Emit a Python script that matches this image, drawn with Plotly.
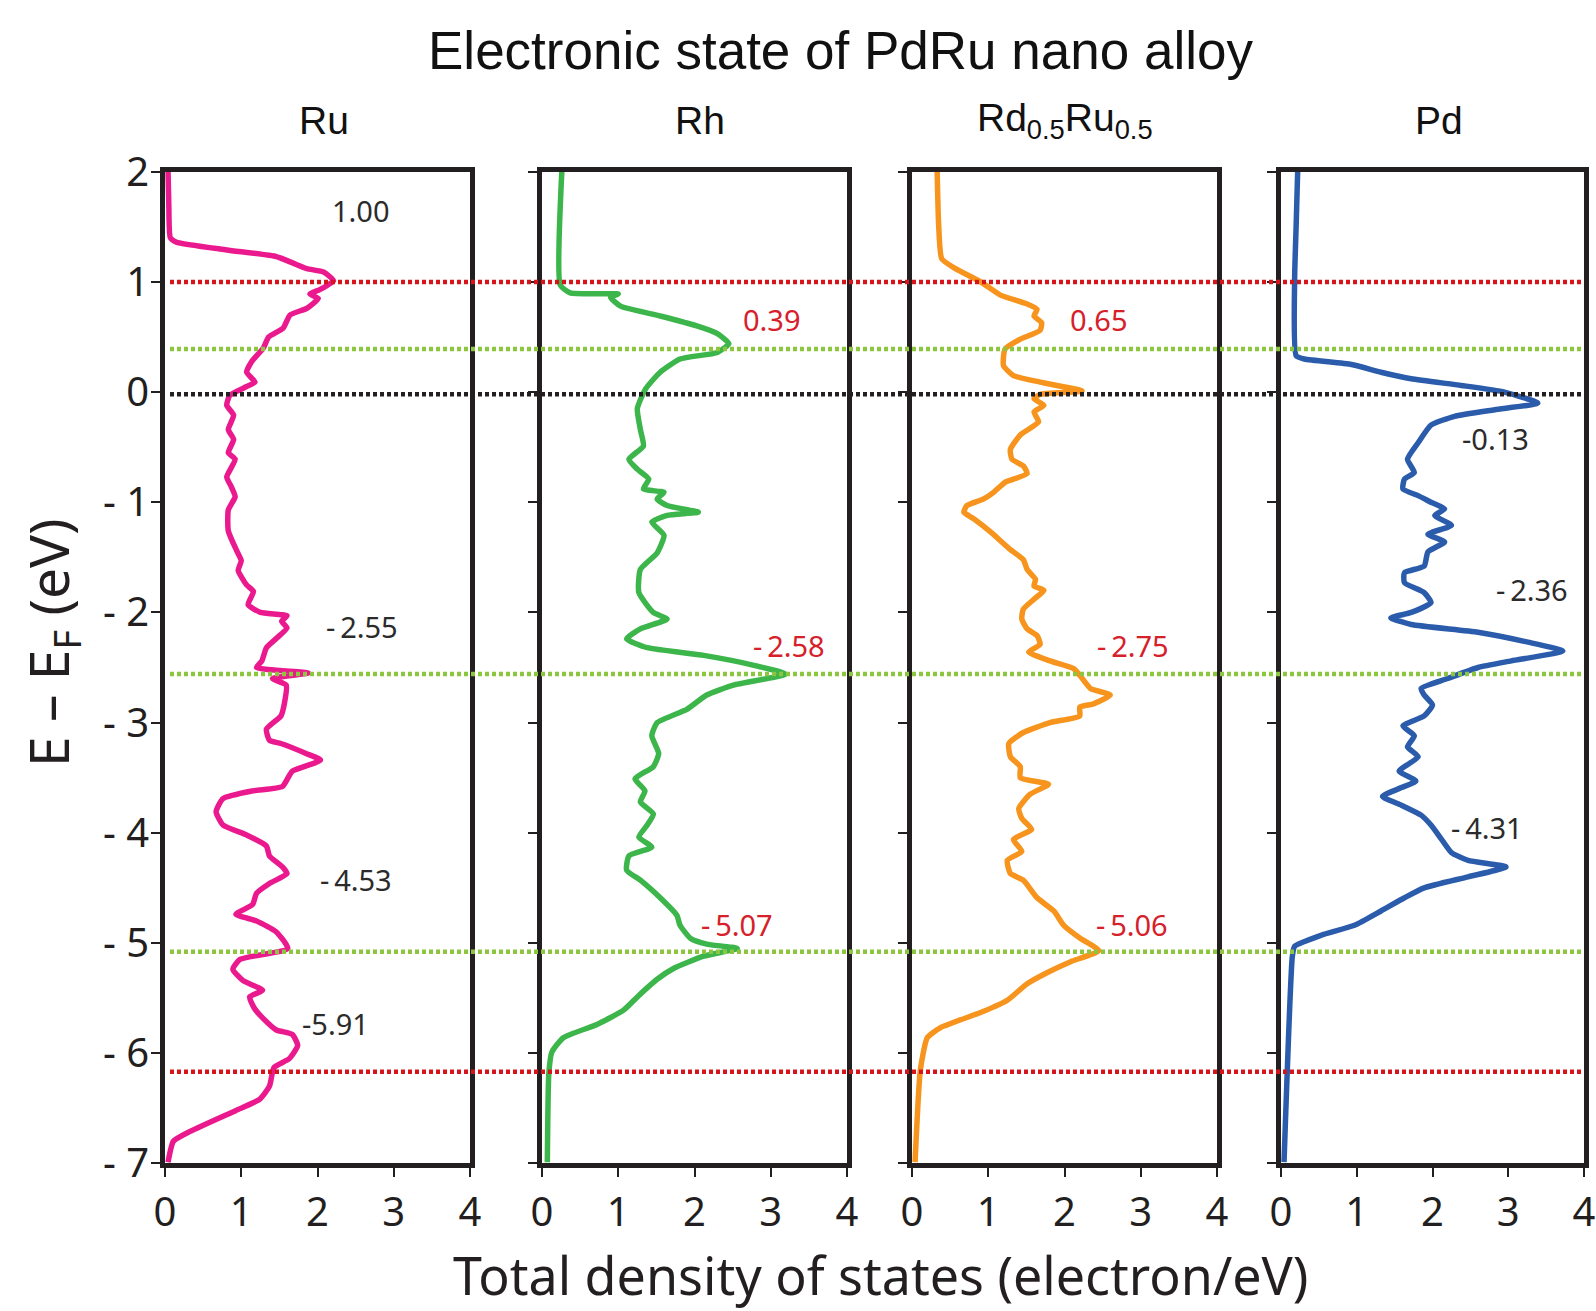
import plotly.graph_objects as go

# ---------------- data (energy E-EF in eV, total DOS in electron/eV) ----------------
panel_names = ["Ru", "Rh", "Rd<sub>0.5</sub>Ru<sub>0.5</sub>", "Pd"]

ru_points = [(2.0, 0.04), (1.7, 0.05), (1.4, 0.07), (1.36, 0.15), (1.29, 0.81), (1.23, 1.46), (1.17, 1.68),
             (1.12, 1.86), (1.09, 2.08), (1.01, 2.21), (0.93, 2.03), (0.89, 1.9), (0.85, 2.01), (0.76, 1.86),
             (0.70, 1.64), (0.58, 1.55), (0.50, 1.36), (0.40, 1.29), (0.28, 1.14), (0.18, 1.07), (0.09, 1.18),
             (0.05, 1.07), (-0.03, 0.85), (-0.12, 0.81), (-0.21, 0.9), (-0.34, 0.83), (-0.43, 0.9),
             (-0.55, 0.83), (-0.61, 0.92), (-0.77, 0.81), (-0.86, 0.87), (-0.95, 0.92), (-1.07, 0.83),
             (-1.26, 0.83), (-1.44, 0.94), (-1.53, 1.0), (-1.62, 0.96), (-1.75, 1.07), (-1.81, 1.16),
             (-1.93, 1.09), (-2.0, 1.25), (-2.03, 1.6), (-2.08, 1.53), (-2.14, 1.6), (-2.23, 1.47),
             (-2.32, 1.33), (-2.44, 1.27), (-2.5, 1.2), (-2.55, 1.88), (-2.6, 1.41), (-2.66, 1.59),
             (-2.81, 1.57), (-2.94, 1.52), (-3.06, 1.33), (-3.16, 1.37), (-3.19, 1.52), (-3.28, 1.85),
             (-3.34, 2.04), (-3.44, 1.67), (-3.48, 1.63), (-3.58, 1.54), (-3.62, 1.15), (-3.69, 0.76),
             (-3.81, 0.67), (-3.93, 0.76), (-4.02, 1.07), (-4.12, 1.33), (-4.21, 1.37), (-4.31, 1.54),
             (-4.37, 1.6), (-4.46, 1.37), (-4.55, 1.2), (-4.65, 1.15), (-4.74, 0.93), (-4.8, 1.2),
             (-4.9, 1.46), (-5.05, 1.61), (-5.15, 0.98), (-5.24, 0.89), (-5.34, 1.02), (-5.43, 1.28),
             (-5.49, 1.11), (-5.59, 1.17), (-5.68, 1.28), (-5.79, 1.46), (-5.83, 1.67), (-5.93, 1.74),
             (-6.05, 1.63), (-6.13, 1.43), (-6.3, 1.37), (-6.42, 1.24), (-6.52, 0.93), (-6.71, 0.33),
             (-6.8, 0.11), (-6.99, 0.04)]

rh_points = [(2.0, 0.26), (0.97, 0.24), (0.9, 0.37), (0.89, 1.0), (0.86, 0.9), (0.78, 1.03), (0.69, 1.55),
             (0.6, 2.03), (0.53, 2.3), (0.44, 2.45), (0.36, 2.3), (0.3, 1.81), (0.18, 1.55), (0.03, 1.36),
             (-0.15, 1.25), (-0.34, 1.29), (-0.49, 1.33), (-0.61, 1.14), (-0.7, 1.25), (-0.79, 1.4),
             (-0.88, 1.33), (-0.91, 1.6), (-0.97, 1.51), (-1.03, 1.64), (-1.09, 2.05), (-1.12, 1.64),
             (-1.18, 1.44), (-1.3, 1.6), (-1.46, 1.51), (-1.61, 1.29), (-1.82, 1.27), (-2.0, 1.46),
             (-2.06, 1.64), (-2.15, 1.29), (-2.24, 1.11), (-2.32, 1.38), (-2.39, 2.12), (-2.48, 2.78),
             (-2.56, 3.19), (-2.66, 2.51), (-2.75, 2.16), (-2.88, 1.9), (-3.0, 1.51), (-3.12, 1.44),
             (-3.28, 1.53), (-3.4, 1.46), (-3.51, 1.22), (-3.62, 1.35), (-3.72, 1.29), (-3.83, 1.46),
             (-3.93, 1.38), (-4.04, 1.27), (-4.13, 1.44), (-4.21, 1.14), (-4.34, 1.11), (-4.43, 1.29),
             (-4.59, 1.55), (-4.75, 1.77), (-4.84, 1.81), (-4.96, 1.95), (-5.01, 2.16), (-5.05, 2.56),
             (-5.12, 2.12), (-5.23, 1.73), (-5.33, 1.51), (-5.49, 1.25), (-5.61, 1.07), (-5.74, 0.72),
             (-5.86, 0.28), (-5.99, 0.13), (-6.18, 0.09), (-6.99, 0.07)]

rdru_points = [(2.0, 0.33), (1.51, 0.35), (1.21, 0.39), (1.12, 0.57), (1.0, 0.9), (0.88, 1.16), (0.8, 1.51),
               (0.75, 1.64), (0.69, 1.6), (0.63, 1.7), (0.56, 1.68), (0.48, 1.42), (0.39, 1.22), (0.24, 1.2),
               (0.15, 1.33), (0.09, 1.68), (0.01, 2.23), (-0.02, 1.68), (-0.06, 1.6), (-0.12, 1.73),
               (-0.18, 1.6), (-0.27, 1.66), (-0.39, 1.42), (-0.52, 1.29), (-0.61, 1.31), (-0.67, 1.46),
               (-0.74, 1.51), (-0.82, 1.22), (-0.91, 1.07), (-0.97, 0.94), (-1.03, 0.72), (-1.09, 0.68),
               (-1.15, 0.81), (-1.27, 1.03), (-1.43, 1.29), (-1.52, 1.46), (-1.61, 1.51), (-1.7, 1.62),
               (-1.76, 1.6), (-1.8, 1.73), (-1.88, 1.6), (-1.97, 1.46), (-2.06, 1.44), (-2.15, 1.51),
               (-2.21, 1.64), (-2.29, 1.68), (-2.36, 1.53), (-2.44, 1.81), (-2.51, 2.12), (-2.57, 2.2),
               (-2.69, 2.34), (-2.75, 2.6), (-2.83, 2.38), (-2.86, 2.2), (-2.94, 2.2), (-3.0, 1.81),
               (-3.09, 1.46), (-3.19, 1.27), (-3.31, 1.29), (-3.4, 1.42), (-3.5, 1.42), (-3.56, 1.79),
               (-3.65, 1.55), (-3.78, 1.4), (-3.87, 1.44), (-3.97, 1.57), (-4.06, 1.33), (-4.17, 1.44),
               (-4.25, 1.25), (-4.37, 1.29), (-4.43, 1.46), (-4.59, 1.64), (-4.71, 1.86), (-4.84, 1.99),
               (-4.96, 2.21), (-5.07, 2.45), (-5.17, 2.08), (-5.27, 1.77), (-5.37, 1.51), (-5.52, 1.25),
               (-5.62, 0.94), (-5.77, 0.37), (-5.86, 0.2), (-6.15, 0.11), (-6.99, 0.04)]

pd_points = [(2.0, 0.22), (1.51, 0.2), (1.03, 0.18), (0.33, 0.2), (0.3, 0.31), (0.25, 0.93), (0.18, 1.32),
             (0.12, 1.72), (0.06, 2.38), (0.0, 2.95), (-0.1, 3.39), (-0.16, 2.82), (-0.22, 2.29),
             (-0.3, 1.98), (-0.46, 1.81), (-0.61, 1.67), (-0.73, 1.76), (-0.79, 1.63), (-0.88, 1.61),
             (-0.94, 1.81), (-1.0, 1.98), (-1.06, 2.16), (-1.12, 2.03), (-1.21, 2.25), (-1.29, 1.94),
             (-1.36, 2.16), (-1.45, 1.94), (-1.58, 1.89), (-1.64, 1.63), (-1.73, 1.63), (-1.82, 1.89),
             (-1.91, 1.98), (-2.0, 1.72), (-2.05, 1.45), (-2.11, 1.72), (-2.18, 2.6), (-2.27, 3.26),
             (-2.35, 3.72), (-2.44, 3.04), (-2.5, 2.6), (-2.6, 2.2), (-2.69, 1.85), (-2.75, 1.89),
             (-2.84, 2.0), (-2.94, 1.89), (-3.03, 1.61), (-3.12, 1.76), (-3.22, 1.67), (-3.31, 1.81),
             (-3.44, 1.56), (-3.53, 1.78), (-3.59, 1.59), (-3.67, 1.34), (-3.75, 1.59), (-3.84, 1.85),
             (-3.93, 1.98), (-4.05, 2.11), (-4.18, 2.25), (-4.25, 2.47), (-4.31, 2.97), (-4.4, 2.47),
             (-4.5, 1.89), (-4.59, 1.63), (-4.71, 1.32), (-4.84, 0.97), (-4.93, 0.53), (-5.03, 0.18),
             (-5.12, 0.15), (-6.99, 0.04)]

# peak labels: (text, dos position, energy position)
ru_labels = [("1.00", 2.57, 1.65), ("-\u20092.55", 2.59, -2.13), ("-\u20094.53", 2.5, -4.42), ("-5.91", 2.24, -5.73)]
rh_labels = [("0.39", 3.01, 0.66), ("-\u20092.58", 3.24, -2.3), ("-\u20095.07", 2.56, -4.83)]
rdru_labels = [("0.65", 2.45, 0.66), ("-\u20092.75", 2.9, -2.3), ("-\u20095.06", 2.89, -4.83)]
pd_labels = [("-0.13", 2.83, -0.42), ("-\u20092.36", 3.32, -1.79), ("-\u20094.31", 2.72, -3.95)]

# reference energy levels (dotted lines)
red_levels = [1.0, -6.17]
green_levels = [0.39, -2.56, -5.08]
black_levels = [-0.02]

y_tickvals = [2, 1, 0, -1, -2, -3, -4, -5, -6, -7]
y_ticktext = ["2", "1", "0", "- 1", "- 2", "- 3", "- 4", "- 5", "- 6", "- 7"]
x_tickvals = [0, 1, 2, 3, 4]

# ---------------- styling ----------------
W, H = 1596, 1311
curve_colors = ["#ea1a8e", "#3cb54a", "#f7941d", "#2b5cab"]
label_colors = ["#2b2b2b", "#d6202a", "#d6202a", "#2b2b2b"]
frame = "#231f20"
panel_px = [(165, 470), (542, 847), (912, 1217), (1281, 1584)]
top_px, bot_px = 171.7, 1163.3
ydom = [(H - bot_px) / H, (H - top_px) / H]
text_family = "Noto Sans, Open Sans, sans-serif"
tick_font = dict(family=text_family, size=40, color="#231f20")

fig = go.Figure()
all_points = [ru_points, rh_points, rdru_points, pd_points]
all_labels = [ru_labels, rh_labels, rdru_labels, pd_labels]

annotations = []
for i, pts in enumerate(all_points):
    n = "" if i == 0 else str(i + 1)
    energies = [p[0] for p in pts]
    dos = [p[1] for p in pts]
    fig.add_trace(go.Scatter(x=dos, y=energies, mode="lines",
                             line=dict(color=curve_colors[i], width=5.5, shape="spline", smoothing=0.5),
                             xaxis="x" + n, yaxis="y" + n, showlegend=False, hoverinfo="skip"))
    x0, x1 = panel_px[i]
    fig.layout["xaxis" + n] = dict(domain=[x0 / W, x1 / W], range=[0, 4], anchor="y" + n,
                                   tickvals=x_tickvals, ticks="outside", ticklen=9, tickwidth=2,
                                   tickcolor=frame, showline=True, linecolor=frame, linewidth=4.5,
                                   mirror=True, showgrid=False, zeroline=False, tickfont=tick_font,
                                   ticklabelstandoff=1, fixedrange=True, automargin=False)
    fig.layout["yaxis" + n] = dict(domain=ydom, range=[-7, 2], anchor="x" + n,
                                   tickvals=y_tickvals, ticktext=y_ticktext, ticks="outside",
                                   ticklen=9, tickwidth=2, tickcolor=frame, showline=True,
                                   linecolor=frame, linewidth=4.5, mirror=True, showgrid=False,
                                   zeroline=False, tickfont=tick_font, showticklabels=(i == 0),
                                   ticklabelstandoff=-6, fixedrange=True, automargin=False)
    for txt, xv, yv in all_labels[i]:
        annotations.append(dict(text=txt, x=xv, y=yv, xref="x" + n, yref="y" + n, showarrow=False,
                                xanchor="center", yanchor="middle",
                                font=dict(family=text_family, size=29, color=label_colors[i])))

# dotted reference lines spanning all panels
shapes = []
for levels, col in [(red_levels, "#d7141a"), (green_levels, "#8cc63f"), (black_levels, "#231f20")]:
    for lv in levels:
        shapes.append(dict(type="line", xref="paper", yref="y", x0=170 / W, x1=1581 / W, y0=lv, y1=lv,
                           line=dict(color=col, width=4.5, dash="4px,3px"), layer="above"))

# titles
title_font = dict(family="Liberation Sans, Arial, sans-serif", color="#111111")
annotations.append(dict(text="Electronic state of PdRu nano alloy", x=841 / W, y=1 - 51 / H,
                        xref="paper", yref="paper", showarrow=False, xanchor="center", yanchor="middle",
                        font=dict(title_font, size=53)))
panel_title_x = [324, 700, 1065, 1439]
for name, px in zip(panel_names, panel_title_x):
    annotations.append(dict(text=name, x=px / W, y=1 - 120 / H, xref="paper", yref="paper",
                            showarrow=False, xanchor="center", yanchor="middle",
                            font=dict(title_font, size=39)))
annotations.append(dict(text="E – E<sub>F</sub> (eV)", x=51 / W, y=1 - 643 / H, xref="paper", yref="paper",
                        showarrow=False, textangle=-90, xanchor="center", yanchor="middle",
                        font=dict(family=text_family, size=55, color="#231f20")))
annotations.append(dict(text="Total density of states (electron/eV)", x=880 / W, y=1 - 1274 / H,
                        xref="paper", yref="paper", showarrow=False, xanchor="center", yanchor="middle",
                        font=dict(family=text_family, size=52, color="#231f20")))

fig.update_layout(width=W, height=H, margin=dict(l=0, r=0, t=0, b=0, pad=0, autoexpand=False),
                  paper_bgcolor="white", plot_bgcolor="white", showlegend=False,
                  annotations=annotations, shapes=shapes)

fig.write_html("out.html")
